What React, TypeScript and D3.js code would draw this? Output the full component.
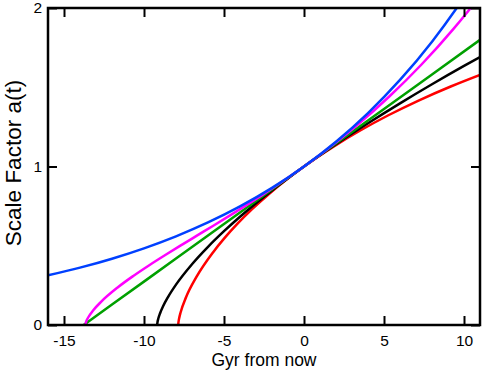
import * as d3 from 'd3';
import { useEffect, useRef } from 'react';

// scale factor a(t) vs time (Gyr from now) for five cosmological models
const xTicks = [-15, -10, -5, 0, 5, 10];
const yTicks = [0, 1, 2];

// closed, matter only
const redT = [-7.86, -7.858, -7.842, -7.798, -7.714, -7.373, -6.722, -5.677, -4.985, -4.17, -3.227, -2.152, 0, 1.894, 3.516, 5.272, 7.159, 9.171, 11];
const redA = [0, 0.005, 0.0199, 0.0447, 0.0789, 0.1747, 0.3033, 0.4597, 0.5464, 0.6376, 0.7325, 0.83, 1, 1.1288, 1.2272, 1.3233, 1.4161, 1.5048, 1.578];

// critical density, matter only
const blackT = [-9.18, -9.15, -9.1, -9, -8.8, -8.5, -8, -7, -6, -5, -4, -3, -2, -1, 0, 2, 4, 6, 8, 10, 11];
const blackA = [0, 0.0221, 0.0423, 0.0727, 0.1197, 0.1764, 0.2548, 0.3835, 0.4932, 0.5918, 0.6828, 0.7681, 0.8489, 0.926, 1, 1.1404, 1.2726, 1.3984, 1.5187, 1.6343, 1.6906];

// empty universe
const greenT = [-13.77, -12, -8, -4, 0, 4, 8, 11];
const greenA = [0, 0.129, 0.419, 0.71, 1, 1.29, 1.581, 1.799];

// matter + lambda
const magentaT = [-13.67, -13.62, -13.47, -13.17, -12.67, -11.67, -10.67, -9.67, -8.67, -7.67, -6.67, -5.67, -4.67, -3.67, -2.67, -1.67, -0.67, 0, 1.33, 3.33, 5.33, 7.33, 9.33, 10.33, 10.83];
const magentaA = [0, 0.02, 0.0504, 0.0929, 0.1476, 0.235, 0.3093, 0.3772, 0.4415, 0.5038, 0.5652, 0.6265, 0.6884, 0.7515, 0.8162, 0.8829, 0.9521, 1, 1.0997, 1.2617, 1.4415, 1.642, 1.8669, 1.9895, 2.0537];

// lambda only
const blueT = [-16, -14, -12, -10, -8, -6, -4, -2, 0, 2, 4, 6, 8, 9.545, 10];
const blueA = [0.313, 0.3618, 0.4183, 0.4837, 0.5594, 0.6468, 0.7479, 0.8648, 1, 1.1563, 1.3371, 1.5461, 1.7877, 2, 2.067];

const series = [
  { name: 'red', color: '#ff0000', t: redT, a: redA },
  { name: 'black', color: '#000000', t: blackT, a: blackA },
  { name: 'green', color: '#00a000', t: greenT, a: greenA },
  { name: 'magenta', color: '#ff00ff', t: magentaT, a: magentaA },
  { name: 'blue', color: '#0040ff', t: blueT, a: blueA },
];

const App = () => {
  const svgRef = useRef<SVGSVGElement>(null);

  useEffect(() => {
    const width = 482;
    const height = 371;
    const margin = { top: 8, right: 2, bottom: 46, left: 48 };
    const w = width - margin.left - margin.right;
    const h = height - margin.top - margin.bottom;
    const font = '"Liberation Sans", Arial, sans-serif';

    const svg = d3.select(svgRef.current);
    svg.selectAll('*').remove();

    const x = d3.scaleLinear().domain([-16, 11]).range([0, w]);
    const y = d3.scaleLinear().domain([0, 2]).range([h, 0]);

    svg
      .append('defs')
      .append('clipPath')
      .attr('id', 'plot-clip')
      .append('rect')
      .attr('width', w)
      .attr('height', h);

    const g = svg.append('g').attr('transform', `translate(${margin.left},${margin.top})`);

    // curves
    const line = d3
      .line<[number, number]>()
      .x((d) => x(d[0]))
      .y((d) => y(d[1]))
      .curve(d3.curveMonotoneX);

    const curves = g.append('g').attr('clip-path', 'url(#plot-clip)');
    series.forEach((s) => {
      const pts = s.t.map((t, i) => [t, s.a[i]] as [number, number]);
      curves
        .append('path')
        .datum(pts)
        .attr('fill', 'none')
        .attr('stroke', s.color)
        .attr('stroke-width', 2.5)
        .attr('d', line);
    });

    // axes, ticks pointing inward; plain hyphen for negatives
    const tickLen = 9;
    const plain = (d: d3.NumberValue) => String(d);
    const bottom = g
      .append('g')
      .attr('transform', `translate(0,${h})`)
      .call(d3.axisBottom(x).tickValues(xTicks).tickFormat(plain).tickSizeInner(-tickLen).tickSizeOuter(0).tickPadding(10));
    const top = g.append('g').call(d3.axisTop(x).tickValues(xTicks).tickSizeInner(-tickLen).tickSizeOuter(0).tickFormat(() => ''));
    const left = g
      .append('g')
      .call(d3.axisLeft(y).tickValues(yTicks).tickFormat(plain).tickSizeInner(-tickLen).tickSizeOuter(0).tickPadding(6));
    const right = g
      .append('g')
      .attr('transform', `translate(${w},0)`)
      .call(d3.axisRight(y).tickValues(yTicks).tickSizeInner(-tickLen).tickSizeOuter(0).tickFormat(() => ''));

    [bottom, top, left, right].forEach((a) => {
      a.select('.domain').remove();
      a.selectAll('line').attr('stroke', '#000').attr('stroke-width', 2);
      a.selectAll('text').attr('fill', '#000').style('font-family', font).style('font-size', '15.5px');
    });

    // frame
    g.append('rect')
      .attr('width', w)
      .attr('height', h)
      .attr('fill', 'none')
      .attr('stroke', '#000')
      .attr('stroke-width', 2.5);

    // labels
    svg
      .append('text')
      .attr('x', 264)
      .attr('y', 366)
      .attr('text-anchor', 'middle')
      .style('font-family', font)
      .style('font-size', '17.5px')
      .text('Gyr from now');

    svg
      .append('text')
      .attr('transform', 'translate(21,163) rotate(-90)')
      .attr('text-anchor', 'middle')
      .style('font-family', font)
      .style('font-size', '22.5px')
      .text('Scale Factor a(t)');
  }, []);

  return (
    <svg
      ref={svgRef}
      width={482}
      height={371}
      style={{ position: 'absolute', left: 0, top: 0, background: '#fff' }}
    />
  );
};

export default App;
